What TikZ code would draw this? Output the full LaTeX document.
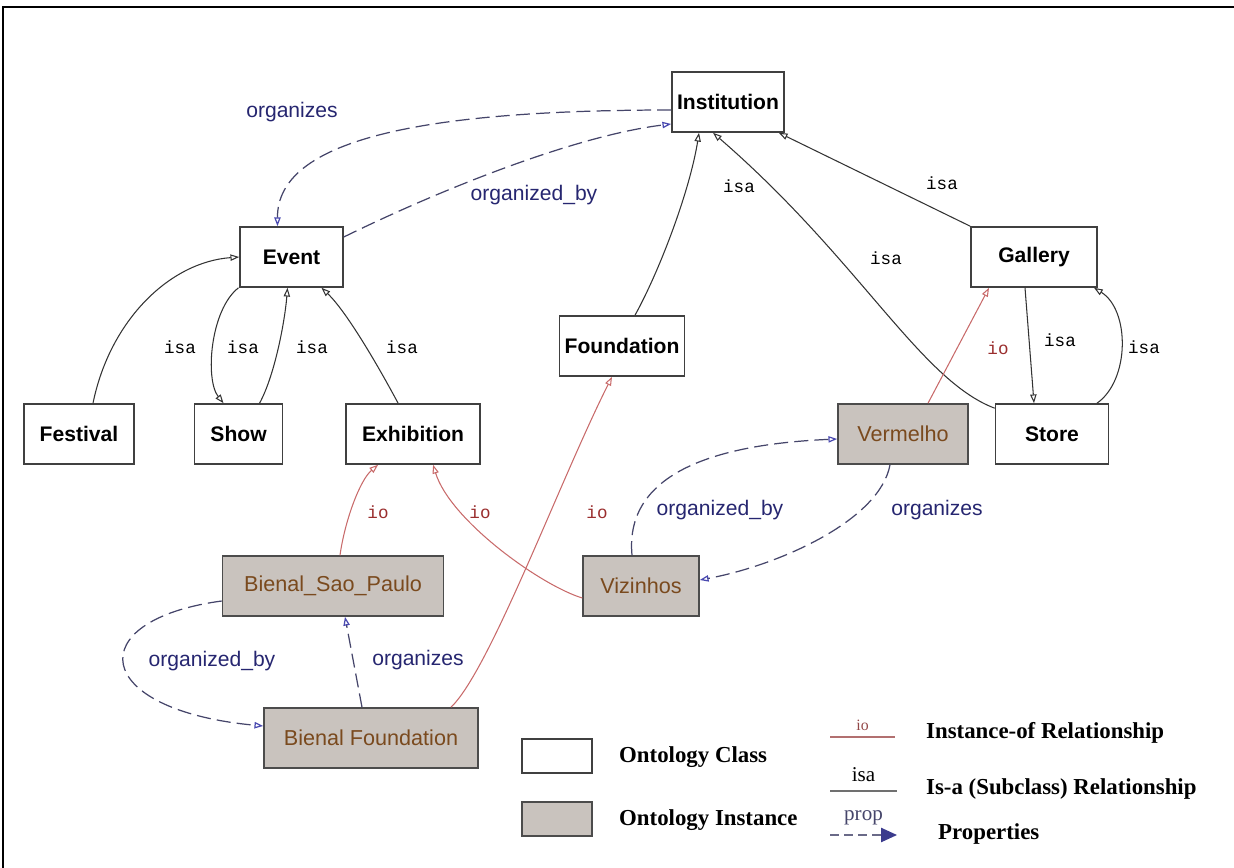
\documentclass[tikz,border=0pt]{standalone}
\usepackage{fontspec}
\setmainfont{Liberation Sans}
\newfontfamily\monofont{Liberation Mono}
\newfontfamily\legendfont{Liberation Serif}
\usetikzlibrary{arrows.meta,positioning}
\definecolor{instfill}{HTML}{C9C3BE}
\definecolor{insttext}{HTML}{7A4A1E}
\definecolor{iored}{HTML}{C86A6A}
\definecolor{iotext}{HTML}{9A2E2E}
\definecolor{propgray}{HTML}{45456A}
\definecolor{proptip}{HTML}{4A4AB0}
\definecolor{proptext}{HTML}{262670}
\definecolor{isagray}{HTML}{333333}

\begin{document}
\begin{tikzpicture}[
  x=0.02cm, y=-0.02cm,
  font=\fontsize{12}{14}\selectfont,
  cls/.style={draw=black!75, fill=white, line width=0.9pt, minimum height=1.2cm, inner sep=0pt, font=\fontsize{12}{14}\selectfont\bfseries},
  inst/.style={draw=black!70, fill=instfill, line width=0.9pt, minimum height=1.2cm, inner sep=0pt, text=insttext, font=\fontsize{12.3}{14}\selectfont},
  isaedge/.style={-{Triangle[open,length=5pt,width=3.6pt]}, draw=isagray, line width=0.6pt},
  ioedge/.style={-{Triangle[open,length=5pt,width=3.6pt]}, draw=iored, line width=0.6pt},
  propedge/.style={-{Triangle[open,length=5pt,width=3.6pt,color=proptip]}, draw=propgray, line width=0.7pt, dash pattern=on 8pt off 3.5pt},
  isalbl/.style={font=\monofont\fontsize{10}{12}\selectfont, text=black},
  iolbl/.style={font=\monofont\fontsize{10}{12}\selectfont, text=iotext},
  proplbl/.style={text=proptext},
  keytxt/.style={anchor=west, font=\legendfont\fontsize{13}{15}\selectfont\bfseries}
]
  \useasboundingbox (0,0) rectangle (1234,868);
  \draw[line width=1.2pt] (1234,7) -- (3,7) -- (3,868);

  % classes
  \node[cls, minimum width=2.24cm] (institution) at (728,102) {Institution};
  \node[cls, minimum width=2.06cm] (event) at (291.5,257) {Event};
  \node[cls, minimum width=2.2cm] (festival) at (79,434) {Festival};
  \node[cls, minimum width=1.76cm, right=1.18cm of festival] (show) {Show};
  \node[cls, minimum width=2.68cm, right=1.24cm of show] (exhibition) {Exhibition};
  \node[cls, minimum width=2.5cm] (foundation) at (622,346) {Foundation};
  \node[cls, minimum width=2.52cm] (gallery) at (1034,257) {Gallery};
  \node[cls, minimum width=2.26cm] (store) at (1052,434) {Store};

  % instances
  \node[inst, minimum width=2.6cm] (vermelho) at (903,434) {Vermelho};
  \node[inst, minimum width=2.32cm] (vizinhos) at (641,586) {Vizinhos};
  \node[inst, minimum width=4.42cm] (bsp) at (333,586) {Bienal\_Sao\_Paulo};
  \node[inst, minimum width=4.28cm] (bfound) at (371,738) {Bienal Foundation};

  % isa
  \draw[isaedge] ([xshift=0.28cm]festival.north) .. controls (110,320) and (170,262) .. (event.west);
  \draw[isaedge] ([xshift=-1.06cm]event.south) .. controls (210,310) and (205,380) .. ([xshift=-0.3cm]show.north);
  \draw[isaedge] ([xshift=0.42cm]show.north) .. controls (275,375) and (285,320) .. ([xshift=-0.08cm]event.south);
  \draw[isaedge] ([xshift=-0.3cm]exhibition.north) .. controls (375,360) and (345,310) .. ([xshift=0.6cm]event.south);
  \draw[isaedge] ([xshift=0.26cm]foundation.north) .. controls (660,270) and (690,190) .. ([xshift=-0.58cm]institution.south);
  \draw[isaedge] ([yshift=-0.1cm]store.north west) .. controls (920,380) and (860,260) .. ([xshift=-0.3cm]institution.south);
  \draw[isaedge] (gallery.north west) -- ([xshift=-0.12cm]institution.south east);
  \draw[isaedge] ([xshift=-0.18cm]gallery.south) -- ([xshift=-0.36cm]store.north);
  \draw[isaedge] ([xshift=0.9cm]store.north) .. controls (1130,380) and (1130,310) .. ([xshift=1.2cm]gallery.south);
  \node[isalbl] (isa1) at (180,347) {isa};
  \node[isalbl] (isa2) at (243,347) {isa};
  \node[isalbl] (isa3) at (312,347) {isa};
  \node[isalbl] (isa4) at (402,347) {isa};
  \node[isalbl] (isa5) at (739,186) {isa};
  \node[isalbl] (isa6) at (886,258) {isa};
  \node[isalbl] (isa7) at (942,183) {isa};
  \node[isalbl] (isa8) at (1060,340) {isa};
  \node[isalbl] (isa9) at (1144,347) {isa};

  % io
  \draw[ioedge] ([xshift=0.14cm]bsp.north) .. controls (345,520) and (360,480) .. ([xshift=-0.7cm]exhibition.south);
  \draw[ioedge] ([yshift=-0.24cm]vizinhos.west) .. controls (540,585) and (450,520) .. ([xshift=0.4cm]exhibition.south);
  \draw[ioedge] ([xshift=1.6cm]bfound.north) .. controls (490,670) and (560,480) .. ([xshift=-0.2cm]foundation.south);
  \draw[ioedge] ([xshift=0.5cm]vermelho.north) -- ([xshift=-0.9cm]gallery.south);
  \node[iolbl] (io1) at (378,512) {io};
  \node[iolbl] (io2) at (480,512) {io};
  \node[iolbl] (io3) at (597,512) {io};
  \node[iolbl] (io4) at (998,348) {io};

  % properties
  \draw[propedge] ([yshift=-0.16cm]institution.west) .. controls (420,110) and (277,140) .. ([xshift=-0.28cm]event.north);
  \draw[propedge] ([yshift=0.4cm]event.east) .. controls (450,185) and (580,135) .. ([yshift=-0.44cm]institution.west);
  \draw[propedge] ([yshift=-0.3cm]bsp.west) .. controls (80,620) and (90,710) .. ([yshift=0.24cm]bfound.west);
  \draw[propedge] ([xshift=-0.18cm]bfound.north) -- ([xshift=0.24cm]bsp.south);
  \draw[propedge] ([xshift=-0.18cm]vizinhos.north) .. controls (625,480) and (700,445) .. ([yshift=-0.1cm]vermelho.west);
  \draw[propedge] ([xshift=-0.26cm]vermelho.south) .. controls (880,520) and (780,565) .. ([yshift=0.12cm]vizinhos.east);
  \node[proplbl] (p1) at (292,112) {organizes};
  \node[proplbl] (p2) at (534,195) {organized\_by};
  \node[proplbl] (p3) at (212,661) {organized\_by};
  \node[proplbl] (p4) at (418,660) {organizes};
  \node[proplbl] (p5) at (720,510) {organized\_by};
  \node[proplbl] (p6) at (937,510) {organizes};

  % legend
  \node[cls, minimum width=1.4cm, minimum height=0.68cm] (keycls) at (557,756) {};
  \node[inst, minimum width=1.4cm, minimum height=0.68cm] (keyinst) at (557,819) {};
  \node[keytxt] (keyclstxt) at (613,757) {Ontology Class};
  \node[keytxt] (keyinsttxt) at (613,820) {Ontology Instance};
  \coordinate (ioA) at (830,737);
  \coordinate (ioB) at (895,737);
  \coordinate (isaA) at (830,791);
  \coordinate (isaB) at (897,791);
  \coordinate (propA) at (830,835);
  \coordinate (propB) at (897,835);
  \draw[draw=iored!70!gray, line width=0.8pt] (ioA) -- node[above=0pt, font=\legendfont\fontsize{9}{10}\selectfont, text=iotext!70!gray] {io} (ioB);
  \draw[draw=isagray!70, line width=1.4pt] (isaA) -- node[above=1pt, font=\legendfont\fontsize{12}{13}\selectfont] {isa} (isaB);
  \draw[draw=propgray!80, line width=1pt, dash pattern=on 5pt off 3pt, -{Triangle[length=9pt,width=8pt,color=proptip!80!black]}] (propA) -- node[above=2pt, font=\legendfont\fontsize{12}{13}\selectfont, text=propgray] {prop} (propB);
  \node[keytxt] (keyio) at (920,733) {Instance-of Relationship};
  \node[keytxt] (keyisa) at (920,789) {Is-a (Subclass) Relationship};
  \node[keytxt] (keyprop) at (932,834) {Properties};
\end{tikzpicture}
\end{document}
